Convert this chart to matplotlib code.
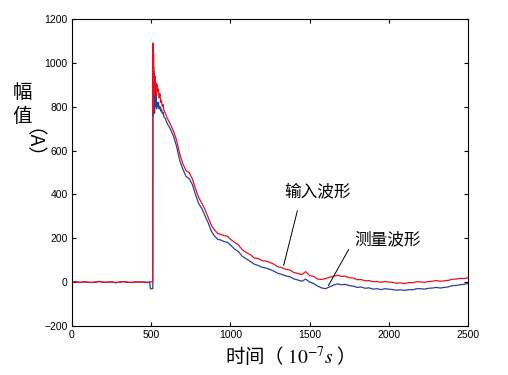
import matplotlib
matplotlib.use("Agg")
import matplotlib.pyplot as plt
import numpy as np

plt.rcParams['font.family'] = ['Liberation Sans', 'DejaVu Sans']
plt.rcParams['mathtext.fontset'] = 'stix'

# time axis (units of 1e-7 s)
t = [0, 25, 50, 75, 100, 125, 150, 175, 200, 225, 250, 275, 300, 325, 350, 375, 400, 425, 450, 475,
     490, 495, 500, 505, 510,
     511, 513, 515, 517, 519, 521, 524, 527, 530, 534, 538, 542, 546, 550, 555, 560, 565, 570, 575, 580, 590, 600,
     620, 640, 660, 680, 700, 720, 740, 760, 780, 800, 820, 840, 860, 880, 900, 920, 940, 960, 980, 1000,
     1025, 1050, 1075, 1100, 1125, 1150, 1175, 1200, 1225, 1250, 1275, 1300, 1325, 1350, 1375, 1400,
     1425, 1450, 1475, 1500, 1525, 1550, 1575, 1600, 1625, 1650, 1675, 1700, 1725, 1750, 1775, 1800,
     1825, 1850, 1875, 1900, 1925, 1950, 1975, 2000, 2025, 2050, 2075, 2100, 2125, 2150, 2175, 2200,
     2225, 2250, 2275, 2300, 2325, 2350, 2375, 2400, 2425, 2450, 2475, 2500]

# input waveform (red)
input_wave = [0, 3, -1, 2, 0, -2, 1, 4, 0, -1, 2, -3, 1, 3, 0, -2, 2, 0, 1, -1,
              0, 2, 0, 1, 0,
              1090, 780, 1040, 850, 960, 880, 940, 860, 910, 850, 900, 870, 880, 840, 860, 820, 830, 800, 810, 785, 770, 750,
              722, 690, 648, 585, 540, 508, 500, 470, 425, 385, 360, 330, 295, 258, 238, 222, 218, 212, 210, 196,
              182, 170, 148, 135, 126, 110, 108, 98, 96, 90, 82, 70, 66, 58, 56, 44,
              40, 34, 48, 30, 26, 14, 12, 16, 22, 26, 32, 26, 27, 20, 19, 11,
              12, 6, 7, 2, 3, -1, 3, 0, -1, -5, -3, -7, -2, -3, 2, 1,
              -1, 3, 4, 7, 4, 6, 8, 13, 14, 17, 16, 20]

# measured waveform (blue)
measured_wave = [0, 1, -2, 1, -1, -1, 0, 2, -1, 0, 1, -2, 0, 2, -1, -1, 1, 0, 0, -2,
                 0, -30, -30, -30, -30,
                 1050, 760, 980, 790, 900, 770, 860, 800, 850, 790, 820, 800, 820, 790, 800, 780, 790, 770, 775, 755, 745, 725,
                 700, 668, 620, 555, 515, 482, 472, 445, 398, 358, 335, 302, 270, 232, 210, 195, 192, 185, 182, 170,
                 152, 140, 118, 106, 95, 82, 76, 68, 64, 58, 50, 40, 35, 28, 25, 15,
                 10, 4, 14, 0, -6, -18, -26, -30, -22, -14, -8, -12, -10, -16, -18, -24,
                 -22, -28, -26, -32, -30, -34, -30, -32, -34, -37, -35, -38, -34, -35, -30, -30,
                 -32, -28, -27, -24, -27, -24, -22, -16, -15, -12, -10, -6]

fig = plt.figure(figsize=(5.08, 3.75), dpi=100)
ax = fig.add_axes([0.1417, 0.1307, 0.7796, 0.8186])

ax.plot(t, measured_wave, color='#2b3f97', linewidth=0.9)
ax.plot(t, input_wave, color='#e8101e', linewidth=0.9)

ax.set_xlim(0, 2500)
ax.set_ylim(-200, 1200)
ax.set_xticks([0, 500, 1000, 1500, 2000, 2500])
ax.set_yticks([-200, 0, 200, 400, 600, 800, 1000, 1200])
ax.tick_params(direction='in', length=3, width=0.8, labelsize=7.5,
               top=True, right=True, pad=3)
for s in ax.spines.values():
    s.set_linewidth(0.8)

cjk = ['Noto Sans CJK SC', 'DejaVu Sans']

# annotations
ax.annotate('', xy=(1332, 64), xytext=(1427, 338),
            arrowprops=dict(arrowstyle='-', color='black', lw=0.7))
ax.annotate('', xy=(1610, -27), xytext=(1755, 160),
            arrowprops=dict(arrowstyle='-', color='black', lw=0.7))
ax.text(1547, 410, '输入波形', family=cjk, fontsize=12, ha='center', va='center')
ax.text(1995, 195, '测量波形', family=cjk, fontsize=12, ha='center', va='center')

# axis labels
fig.text(285 / 508, 1 - 357 / 375, '时间（ $10^{-7}s$ ）', family=cjk, fontsize=14,
         ha='center', va='center')
fig.text(22 / 508, 1 - 92 / 375, '幅', family=cjk, fontsize=14, ha='center', va='center')
fig.text(22 / 508, 1 - 117 / 375, '值', family=cjk, fontsize=14, ha='center', va='center')
fig.text(22 / 508, 1 - 153 / 375, '（A）', family=cjk, fontsize=14, ha='center', va='center',
         rotation=-90)

fig.savefig('out.png', dpi=100)
